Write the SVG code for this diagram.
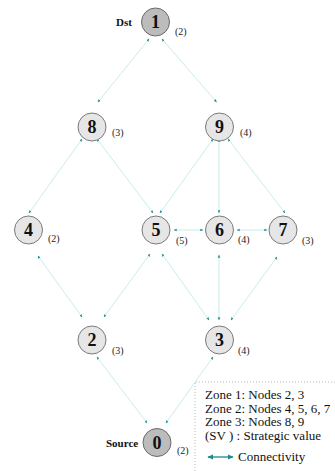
<svg xmlns="http://www.w3.org/2000/svg" width="335" height="471" viewBox="0 0 335 471">
<defs>
<marker id="ah" viewBox="0 0 6 6" refX="5" refY="3" markerWidth="3.2" markerHeight="3.2" orient="auto-start-reverse" markerUnits="userSpaceOnUse">
<path d="M0,0.5 L6,3 L0,5.5 z" fill="#1f9696"/>
</marker>
<marker id="lh" viewBox="0 0 8 8" refX="7" refY="4" markerWidth="6" markerHeight="6" orient="auto-start-reverse" markerUnits="userSpaceOnUse">
<path d="M0,0.5 L8,4 L0,7.5 z" fill="#1f8a8a"/>
</marker>
<style>
.e{stroke:#a6dede;stroke-width:0.6;fill:none;marker-start:url(#ah);marker-end:url(#ah)}
.n{fill:#e6e6e6;stroke:#7a7a7a;stroke-width:1}
.t{fill:#bcbcbc;stroke:#6a6a6a;stroke-width:1}
text{font-family:'Liberation Serif','Times New Roman',Times,serif}
.num{font-weight:bold;font-size:18px;text-anchor:middle;fill:#111}
.sv{font-size:10px;fill:#222}
.lb{font-weight:bold;font-size:11px;fill:#111}
.lg{font-size:13px;fill:#111}
</style>
</defs>
<g id="connectors">
<line class="e" x1="149" y1="39" x2="98" y2="102"/>
<line class="e" x1="162" y1="39" x2="216.5" y2="102"/>
<line class="e" x1="82" y1="139" x2="29" y2="213"/>
<line class="e" x1="97" y1="139" x2="153" y2="213"/>
<line class="e" x1="213" y1="139" x2="160" y2="213"/>
<line class="e" x1="219" y1="139" x2="219" y2="213"/>
<line class="e" x1="228" y1="139" x2="285" y2="213"/>
<line class="e" x1="174" y1="230" x2="203" y2="230"/>
<line class="e" x1="237" y1="230" x2="267" y2="230"/>
<line class="e" x1="38" y1="256" x2="82" y2="317"/>
<line class="e" x1="150" y1="254" x2="104" y2="317"/>
<line class="e" x1="162" y1="254" x2="209" y2="320"/>
<line class="e" x1="219" y1="255" x2="219" y2="320"/>
<line class="e" x1="277" y1="257" x2="231" y2="320"/>
<line class="e" x1="97" y1="357" x2="147" y2="423"/>
<line class="e" x1="213" y1="357" x2="166" y2="423"/>
</g>
<g id="node1"><circle class="t" cx="155.5" cy="22" r="14"/><text class="num" x="155.5" y="28">1</text><text class="sv" x="175" y="35">(2)</text><text class="lb" x="116" y="26">Dst</text></g>
<g id="node8"><circle class="n" cx="92" cy="127" r="14"/><text class="num" x="92" y="133">8</text><text class="sv" x="112" y="136">(3)</text></g>
<g id="node9"><circle class="n" cx="219.5" cy="127" r="14"/><text class="num" x="219.5" y="133">9</text><text class="sv" x="240" y="136">(4)</text></g>
<g id="node4"><circle class="n" cx="28.5" cy="230" r="14"/><text class="num" x="28.5" y="236">4</text><text class="sv" x="48" y="242">(2)</text></g>
<g id="node5"><circle class="n" cx="156" cy="230" r="14"/><text class="num" x="156" y="236">5</text><text class="sv" x="176" y="244">(5)</text></g>
<g id="node6"><circle class="n" cx="219.5" cy="230" r="14"/><text class="num" x="219.5" y="236">6</text><text class="sv" x="238" y="243">(4)</text></g>
<g id="node7"><circle class="n" cx="283" cy="230" r="14"/><text class="num" x="283" y="236">7</text><text class="sv" x="302" y="244">(3)</text></g>
<g id="node2"><circle class="n" cx="92" cy="340" r="14"/><text class="num" x="92" y="346">2</text><text class="sv" x="112" y="354">(3)</text></g>
<g id="node3"><circle class="n" cx="219.5" cy="340" r="14"/><text class="num" x="219.5" y="346">3</text><text class="sv" x="238" y="354">(4)</text></g>
<g id="node0"><circle class="t" cx="157" cy="442.5" r="14"/><text class="num" x="157" y="448.5">0</text><text class="sv" x="177" y="454">(2)</text><text class="lb" x="106" y="447">Source</text></g>
<g id="legend">
<path d="M195,471 L195,382 L335,382" fill="none" stroke="#aaa" stroke-width="0.8" stroke-dasharray="1,2"/>
<text class="lg" x="205" y="399">Zone 1: Nodes 2, 3</text>
<text class="lg" x="205" y="412.5">Zone 2: Nodes 4, 5, 6, 7</text>
<text class="lg" x="205" y="426">Zone 3: Nodes 8, 9</text>
<text class="lg" x="205" y="439.5">(SV ) : Strategic value</text>
<line x1="208" y1="457" x2="233" y2="457" stroke="#1f8a8a" stroke-width="1.3" marker-start="url(#lh)" marker-end="url(#lh)"/>
<text class="lg" x="238" y="461">Connectivity</text>
</g>
</svg>
